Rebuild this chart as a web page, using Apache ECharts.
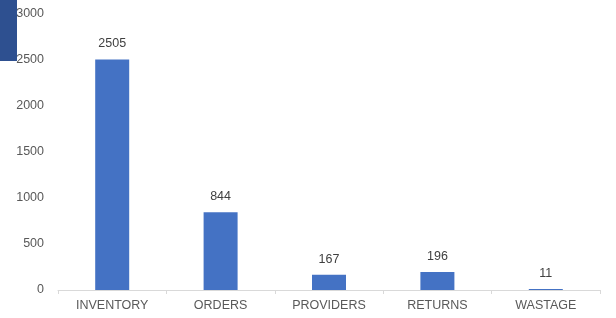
<!DOCTYPE html>
<html>
<head>
<meta charset="utf-8">
<script src="https://cdn.jsdelivr.net/npm/echarts@6/dist/echarts.min.js"></script>
<style>
  html, body { margin: 0; padding: 0; background: #fff; }
  #chart { width: 616px; height: 318px; }
</style>
</head>
<body>
<div id="chart"></div>
<script>
const categories = ['INVENTORY', 'ORDERS', 'PROVIDERS', 'RETURNS', 'WASTAGE'];
const values = [2505, 844, 167, 196, 11];

const chart = echarts.init(document.getElementById('chart'));
chart.setOption({
  animation: false,
  backgroundColor: '#ffffff',
  grid: { left: 58, right: 16, top: 14, bottom: 28, containLabel: false },
  xAxis: {
    type: 'category',
    data: categories,
    axisLine: { lineStyle: { color: '#d9d9d9' } },
    axisTick: { show: true, length: 4, lineStyle: { color: '#d9d9d9' } },
    axisLabel: { color: '#595959', fontFamily: 'Liberation Sans', fontSize: 12.5, margin: 9 }
  },
  yAxis: {
    type: 'value',
    min: 0,
    max: 3000,
    interval: 500,
    splitLine: { show: false },
    axisLine: { show: false },
    axisTick: { show: false },
    axisLabel: {
      color: '#595959', fontFamily: 'Liberation Sans', fontSize: 12.5, margin: 14,
      formatter: (v) => String(v)
    }
  },
  series: [{
    type: 'bar',
    data: values,
    barWidth: 34,
    itemStyle: { color: '#4472C4' },
    label: {
      show: true,
      position: 'top',
      distance: 9,
      color: '#404040',
      fontFamily: 'Liberation Sans',
      fontSize: 12.5
    }
  }],
  graphic: [{
    type: 'rect',
    left: 0,
    top: 0,
    shape: { width: 17, height: 61 },
    style: { fill: '#2E5090' },
    z: 100
  }]
});
</script>
</body>
</html>
